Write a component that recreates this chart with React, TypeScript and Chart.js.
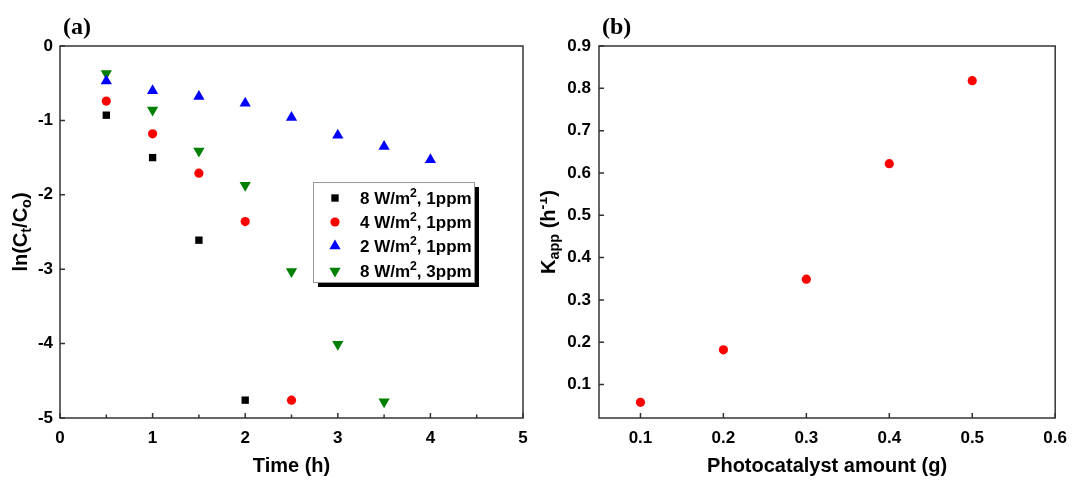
import React, { useEffect, useRef } from 'react';
import { Chart, registerables } from 'chart.js';

Chart.register(...registerables);

// ---------- data ----------
const timeTicks = [0, 1, 2, 3, 4, 5];
const timeMinorTicks = [0.5, 1.5, 2.5, 3.5, 4.5];
const lnTicks = [0, -1, -2, -3, -4, -5];
const amountTicks = [0.1, 0.2, 0.3, 0.4, 0.5, 0.6];
const kappTicks = [0.1, 0.2, 0.3, 0.4, 0.5, 0.6, 0.7, 0.8, 0.9];

const seriesLabels = ['8 W/m², 1ppm', '4 W/m², 1ppm', '2 W/m², 1ppm', '8 W/m², 3ppm'];

const time8W1 = [0.5, 1, 1.5, 2];
const ln8W1 = [-0.93, -1.5, -2.61, -4.76];

const time4W1 = [0.5, 1, 1.5, 2, 2.5];
const ln4W1 = [-0.74, -1.18, -1.71, -2.36, -4.76];

const time2W1 = [0.5, 1, 1.5, 2, 2.5, 3, 3.5, 4];
const ln2W1 = [-0.47, -0.6, -0.68, -0.77, -0.96, -1.2, -1.35, -1.53];

const time8W3 = [0.5, 1, 1.5, 2, 2.5, 3, 3.5];
const ln8W3 = [-0.37, -0.86, -1.41, -1.87, -3.03, -4.01, -4.78];

const amounts = [0.1, 0.2, 0.3, 0.4, 0.5];
const kapp = [0.058, 0.182, 0.349, 0.622, 0.818];

// ---------- styles ----------
type MarkStyle = { color: string; shape: 'rect' | 'circle' | 'triangle'; radius: number; rotation: number };
const markStyles: MarkStyle[] = [
  { color: '#000000', shape: 'rect', radius: 5.2, rotation: 0 },
  { color: '#ff0000', shape: 'circle', radius: 4.6, rotation: 0 },
  { color: '#0000ff', shape: 'triangle', radius: 6.5, rotation: 0 },
  { color: '#008000', shape: 'triangle', radius: 6.5, rotation: 180 },
];

const SANS = '"Liberation Sans", Arial, sans-serif';
const SERIF = '"Liberation Serif", "Times New Roman", serif';

type Seg = { t: string; s?: 'sub' | 'sup' };

function drawRich(
  ctx: CanvasRenderingContext2D,
  segs: Seg[],
  x: number,
  y: number,
  size: number,
  rotate: boolean,
  align: 'center' | 'left'
) {
  ctx.save();
  ctx.translate(x, y);
  if (rotate) ctx.rotate(-Math.PI / 2);
  const small = size * 0.72;
  let total = 0;
  const widths = segs.map((sg) => {
    ctx.font = `bold ${sg.s ? small : size}px ${SANS}`;
    const w = ctx.measureText(sg.t).width;
    total += w;
    return w;
  });
  let cx = align === 'center' ? -total / 2 : 0;
  ctx.textBaseline = 'alphabetic';
  ctx.textAlign = 'left';
  ctx.fillStyle = '#000';
  segs.forEach((sg, i) => {
    ctx.font = `bold ${sg.s ? small : size}px ${SANS}`;
    const dy = sg.s === 'sub' ? size * 0.22 : sg.s === 'sup' ? -size * 0.42 : 0;
    ctx.fillText(sg.t, cx, dy);
    cx += widths[i];
  });
  ctx.restore();
}

function drawMarker(ctx: CanvasRenderingContext2D, st: MarkStyle, x: number, y: number) {
  ctx.save();
  ctx.fillStyle = st.color;
  ctx.beginPath();
  if (st.shape === 'rect') {
    const h = st.radius * Math.SQRT1_2;
    ctx.rect(x - h, y - h, 2 * h, 2 * h);
  } else if (st.shape === 'circle') {
    ctx.arc(x, y, st.radius, 0, Math.PI * 2);
  } else {
    let rad = (st.rotation * Math.PI) / 180;
    for (let k = 0; k < 3; k++) {
      const px = x + Math.sin(rad) * st.radius;
      const py = y - Math.cos(rad) * st.radius;
      if (k === 0) ctx.moveTo(px, py);
      else ctx.lineTo(px, py);
      rad += (2 * Math.PI) / 3;
    }
    ctx.closePath();
  }
  ctx.fill();
  ctx.restore();
}

type DecorCfg = {
  xMajor: number[];
  xMinor: number[];
  yMajor: number[];
  xTitle: Seg[];
  yTitle: Seg[];
  yTitleX: number;
  panel: string;
  panelX: number;
  legend: boolean;
};

function makeDecor(cfg: DecorCfg) {
  return {
    id: 'decor',
    afterDraw(chart: any) {
      const ctx: CanvasRenderingContext2D = chart.ctx;
      const a = chart.chartArea;
      const xs = chart.scales.x;
      const ys = chart.scales.y;
      ctx.save();
      ctx.strokeStyle = '#333';
      ctx.lineWidth = 1.5;
      ctx.strokeRect(a.left, a.top, a.right - a.left, a.bottom - a.top);
      ctx.beginPath();
      cfg.xMajor.forEach((v) => {
        const px = xs.getPixelForValue(v);
        ctx.moveTo(px, a.bottom);
        ctx.lineTo(px, a.bottom - 5);
      });
      cfg.xMinor.forEach((v) => {
        const px = xs.getPixelForValue(v);
        ctx.moveTo(px, a.bottom);
        ctx.lineTo(px, a.bottom - 3.5);
      });
      cfg.yMajor.forEach((v) => {
        const py = ys.getPixelForValue(v);
        ctx.moveTo(a.left, py);
        ctx.lineTo(a.left + 5, py);
      });
      ctx.stroke();
      ctx.restore();

      // axis titles
      drawRich(ctx, cfg.xTitle, (a.left + a.right) / 2, a.bottom + 54, 20, false, 'center');
      drawRich(ctx, cfg.yTitle, cfg.yTitleX, (a.top + a.bottom) / 2, 20, true, 'center');

      // panel label
      ctx.save();
      ctx.font = `bold 24px ${SERIF}`;
      ctx.fillStyle = '#000';
      ctx.textBaseline = 'alphabetic';
      ctx.textAlign = 'left';
      ctx.fillText(cfg.panel, cfg.panelX, 34);
      ctx.restore();

      if (cfg.legend) {
        const L = 313, T = 182, R = 474, B = 282;
        ctx.save();
        ctx.fillStyle = '#000';
        ctx.fillRect(L + 5, T + 5, R - L, B - T);
        ctx.fillStyle = '#fff';
        ctx.fillRect(L, T, R - L, B - T);
        ctx.strokeStyle = '#999';
        ctx.lineWidth = 1;
        ctx.strokeRect(L + 0.5, T + 0.5, R - L, B - T);
        ctx.restore();
        const rowY = [198, 222, 246, 271];
        seriesLabels.forEach((lab, i) => {
          drawMarker(ctx, markStyles[i], 335, rowY[i]);
          const parts = lab.split('²');
          const segs: Seg[] = [{ t: parts[0] }, { t: '2', s: 'sup' }, { t: parts[1] }];
          drawRich(ctx, segs, 360, rowY[i] + 6, 17, false, 'left');
        });
      }
    },
  };
}

function tickFont() {
  return { family: SANS, size: 17, weight: 'bold' as const };
}

function ChartA() {
  const ref = useRef<HTMLCanvasElement>(null);
  useEffect(() => {
    if (!ref.current) return;
    const sets = [
      [time8W1, ln8W1],
      [time4W1, ln4W1],
      [time2W1, ln2W1],
      [time8W3, ln8W3],
    ];
    const chart = new Chart(ref.current, {
      type: 'scatter',
      data: {
        datasets: sets.map(([xs, ys], i) => ({
          label: seriesLabels[i],
          data: xs.map((x, j) => ({ x, y: ys[j] })),
          pointStyle: markStyles[i].shape,
          pointRotation: markStyles[i].rotation,
          pointRadius: markStyles[i].radius,
          pointBackgroundColor: markStyles[i].color,
          pointBorderColor: markStyles[i].color,
          pointBorderWidth: 0,
          showLine: false,
        })),
      },
      options: {
        animation: false,
        responsive: false,
        events: [],
        layout: { padding: { top: 46, right: 17, left: 0, bottom: 0 } },
        plugins: { legend: { display: false }, tooltip: { enabled: false } },
        scales: {
          x: {
            type: 'linear',
            min: 0,
            max: 5,
            grid: { display: false, drawTicks: false },
            border: { display: false },
            afterBuildTicks: (s: any) => {
              s.ticks = timeTicks.map((v) => ({ value: v }));
            },
            afterFit: (s: any) => {
              s.height = 62;
            },
            ticks: {
              autoSkip: false,
              maxRotation: 0,
              padding: 10,
              color: '#000',
              font: tickFont(),
              callback: (v: any) => String(v),
            },
          },
          y: {
            type: 'linear',
            min: -5,
            max: 0,
            grid: { display: false, drawTicks: false },
            border: { display: false },
            afterBuildTicks: (s: any) => {
              s.ticks = lnTicks.map((v) => ({ value: v }));
            },
            afterFit: (s: any) => {
              s.width = 60;
            },
            ticks: {
              autoSkip: false,
              padding: 7,
              color: '#000',
              font: tickFont(),
              callback: (v: any) => String(v),
            },
          },
        },
      },
      plugins: [
        makeDecor({
          xMajor: timeTicks,
          xMinor: timeMinorTicks,
          yMajor: lnTicks,
          xTitle: [{ t: 'Time (h)' }],
          yTitle: [{ t: 'ln(C' }, { t: 't', s: 'sub' }, { t: '/C' }, { t: 'o', s: 'sub' }, { t: ')' }],
          yTitleX: 27,
          panel: '(a)',
          panelX: 63,
          legend: true,
        }),
      ],
    } as any);
    return () => chart.destroy();
  }, []);
  return (
    <canvas
      ref={ref}
      width={540}
      height={480}
      style={{ position: 'absolute', left: 0, top: 0, width: 540, height: 480, display: 'block' }}
    />
  );
}

function ChartB() {
  const ref = useRef<HTMLCanvasElement>(null);
  useEffect(() => {
    if (!ref.current) return;
    const st = markStyles[1];
    const chart = new Chart(ref.current, {
      type: 'scatter',
      data: {
        datasets: [
          {
            label: 'Kapp',
            data: amounts.map((x, j) => ({ x, y: kapp[j] })),
            pointStyle: 'circle',
            pointRadius: st.radius,
            pointBackgroundColor: st.color,
            pointBorderColor: st.color,
            pointBorderWidth: 0,
            showLine: false,
          },
        ],
      },
      options: {
        animation: false,
        responsive: false,
        events: [],
        layout: { padding: { top: 46, right: 13, left: 0, bottom: 0 } },
        plugins: { legend: { display: false }, tooltip: { enabled: false } },
        scales: {
          x: {
            type: 'linear',
            min: 0.05,
            max: 0.6,
            grid: { display: false, drawTicks: false },
            border: { display: false },
            afterBuildTicks: (s: any) => {
              s.ticks = amountTicks.map((v) => ({ value: v }));
            },
            afterFit: (s: any) => {
              s.height = 62;
            },
            ticks: {
              autoSkip: false,
              maxRotation: 0,
              padding: 10,
              color: '#000',
              font: tickFont(),
              callback: (v: any) => Number(v).toFixed(1),
            },
          },
          y: {
            type: 'linear',
            min: 0.021,
            max: 0.9,
            grid: { display: false, drawTicks: false },
            border: { display: false },
            afterBuildTicks: (s: any) => {
              s.ticks = kappTicks.map((v) => ({ value: v }));
            },
            afterFit: (s: any) => {
              s.width = 59;
            },
            ticks: {
              autoSkip: false,
              padding: 8,
              color: '#000',
              font: tickFont(),
              callback: (v: any) => Number(v).toFixed(1),
            },
          },
        },
      },
      plugins: [
        makeDecor({
          xMajor: amountTicks,
          xMinor: [],
          yMajor: kappTicks,
          xTitle: [{ t: 'Photocatalyst amount (g)' }],
          yTitle: [{ t: 'K' }, { t: 'app', s: 'sub' }, { t: ' (h' }, { t: '-1', s: 'sup' }, { t: ')' }],
          yTitleX: 15,
          panel: '(b)',
          panelX: 62,
          legend: false,
        }),
      ],
    } as any);
    return () => chart.destroy();
  }, []);
  return (
    <canvas
      ref={ref}
      width={537}
      height={480}
      style={{ position: 'absolute', left: 540, top: 0, width: 537, height: 480, display: 'block' }}
    />
  );
}

export default function App() {
  return (
    <div
      style={{
        position: 'absolute',
        left: 0,
        top: 0,
        width: 1077,
        height: 480,
        background: '#fff',
        overflow: 'hidden',
      }}
    >
      <ChartA />
      <ChartB />
    </div>
  );
}
